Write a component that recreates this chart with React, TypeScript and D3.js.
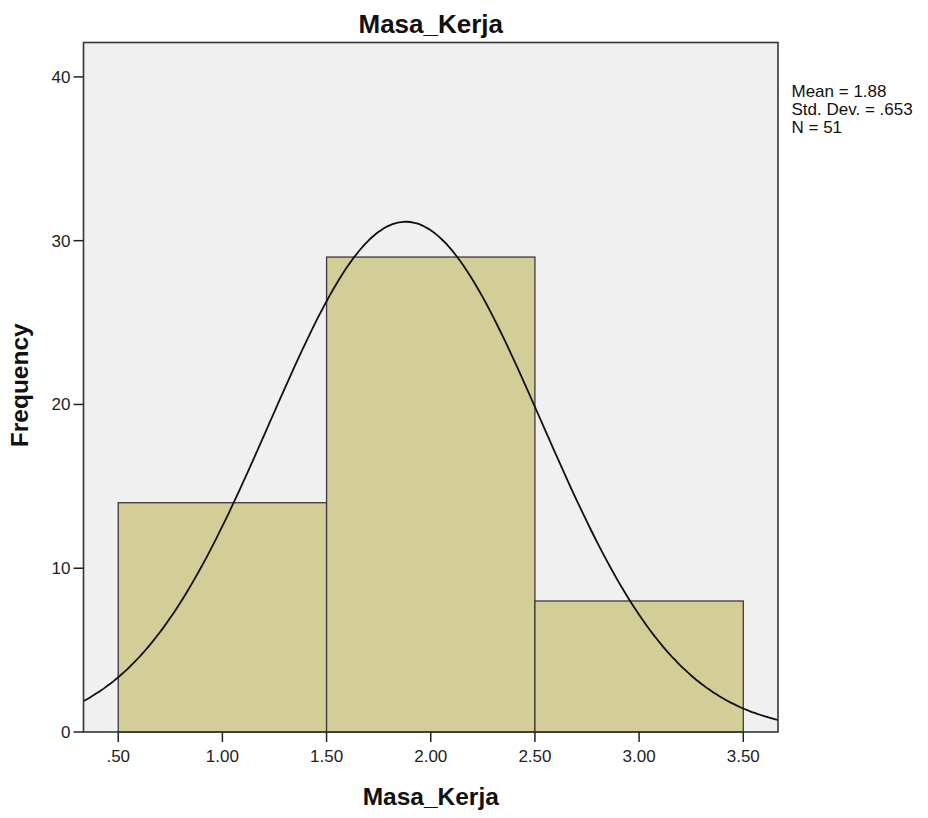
import * as d3 from "d3";

// histogram bins (bin edges) and counts
const binEdges = [0.5, 1.5, 2.5, 3.5];
const counts = [14, 29, 8];
const xTicks = [0.5, 1.0, 1.5, 2.0, 2.5, 3.0, 3.5];
const yTicks = [0, 10, 20, 30, 40];
const stats = { mean: 1.88, sd: 0.653, n: 51 };
const statLines = ["Mean = 1.88", "Std. Dev. = .653", "N = 51"];

const width = 928;
const height = 818;
const plot = { left: 83.5, right: 778, top: 42.5, bottom: 732 };
const font = "'Liberation Sans', Arial, sans-serif";

const fmt = (v: number) => {
  const s = v.toFixed(2);
  return s.startsWith("0") ? s.slice(1) : s;
};

export default function App() {
  const x = d3.scaleLinear().domain([0.3333, 3.6667]).range([plot.left, plot.right]);
  const y = d3.scaleLinear().domain([0, 42.1]).range([plot.bottom, plot.top]);

  // normal curve scaled to counts (bin width 1)
  const binW = binEdges[1] - binEdges[0];
  const scale = (stats.n * binW) / (stats.sd * Math.sqrt(2 * Math.PI));
  const xs = d3.range(0, 201).map((i) => 0.3333 + (i / 200) * (3.6667 - 0.3333));
  const curve = d3
    .line<number>()
    .x((d) => x(d))
    .y((d) => y(scale * Math.exp(-0.5 * ((d - stats.mean) / stats.sd) ** 2)))
    .curve(d3.curveBasis);

  return (
    <div style={{ position: "absolute", left: 0, top: 0 }}>
      <svg width={width} height={height} style={{ display: "block", background: "#fff" }}>
        <rect
          x={plot.left}
          y={plot.top}
          width={plot.right - plot.left}
          height={plot.bottom - plot.top}
          fill="#f0f0f0"
        />
        {counts.map((c, i) => (
          <rect
            key={i}
            x={x(binEdges[i])}
            y={y(c)}
            width={x(binEdges[i + 1]) - x(binEdges[i])}
            height={y(0) - y(c)}
            fill="#d3ce97"
            stroke="#3a3a3a"
            strokeWidth={1.3}
          />
        ))}
        <path d={curve(xs) ?? ""} fill="none" stroke="#111" strokeWidth={1.8} />
        <rect
          x={plot.left}
          y={plot.top}
          width={plot.right - plot.left}
          height={plot.bottom - plot.top}
          fill="none"
          stroke="#333"
          strokeWidth={1.6}
        />

        {/* y axis */}
        {yTicks.map((t) => (
          <g key={t} transform={`translate(0,${y(t)})`}>
            <line x1={plot.left - 10} x2={plot.left} stroke="#222" strokeWidth={1.5} />
            <text
              x={plot.left - 13}
              dy="0.35em"
              textAnchor="end"
              fontFamily={font}
              fontSize={17}
              fill="#222"
            >
              {t}
            </text>
          </g>
        ))}
        {/* x axis */}
        {xTicks.map((t) => (
          <g key={t} transform={`translate(${x(t)},0)`}>
            <line y1={plot.bottom} y2={plot.bottom + 10} stroke="#222" strokeWidth={1.5} />
            <text
              y={761.5}
              textAnchor="middle"
              fontFamily={font}
              fontSize={17}
              fill="#222"
            >
              {fmt(t)}
            </text>
          </g>
        ))}

        <text
          x={(plot.left + plot.right) / 2}
          y={32.5}
          textAnchor="middle"
          fontFamily={font}
          fontSize={26}
          fontWeight="bold"
          fill="#111"
        >
          Masa_Kerja
        </text>
        <text
          x={(plot.left + plot.right) / 2}
          y={805}
          textAnchor="middle"
          fontFamily={font}
          fontSize={24.5}
          fontWeight="bold"
          fill="#111"
        >
          Masa_Kerja
        </text>
        <text
          transform={`translate(28,${(plot.top + plot.bottom) / 2 - 2}) rotate(-90)`}
          textAnchor="middle"
          fontFamily={font}
          fontSize={24.5}
          fontWeight="bold"
          fill="#111"
        >
          Frequency
        </text>

        {statLines.map((s, i) => (
          <text
            key={s}
            x={791.5}
            y={96.5 + i * 18.3}
            fontFamily={font}
            fontSize={17}
            fill="#111"
          >
            {s}
          </text>
        ))}
      </svg>
    </div>
  );
}
